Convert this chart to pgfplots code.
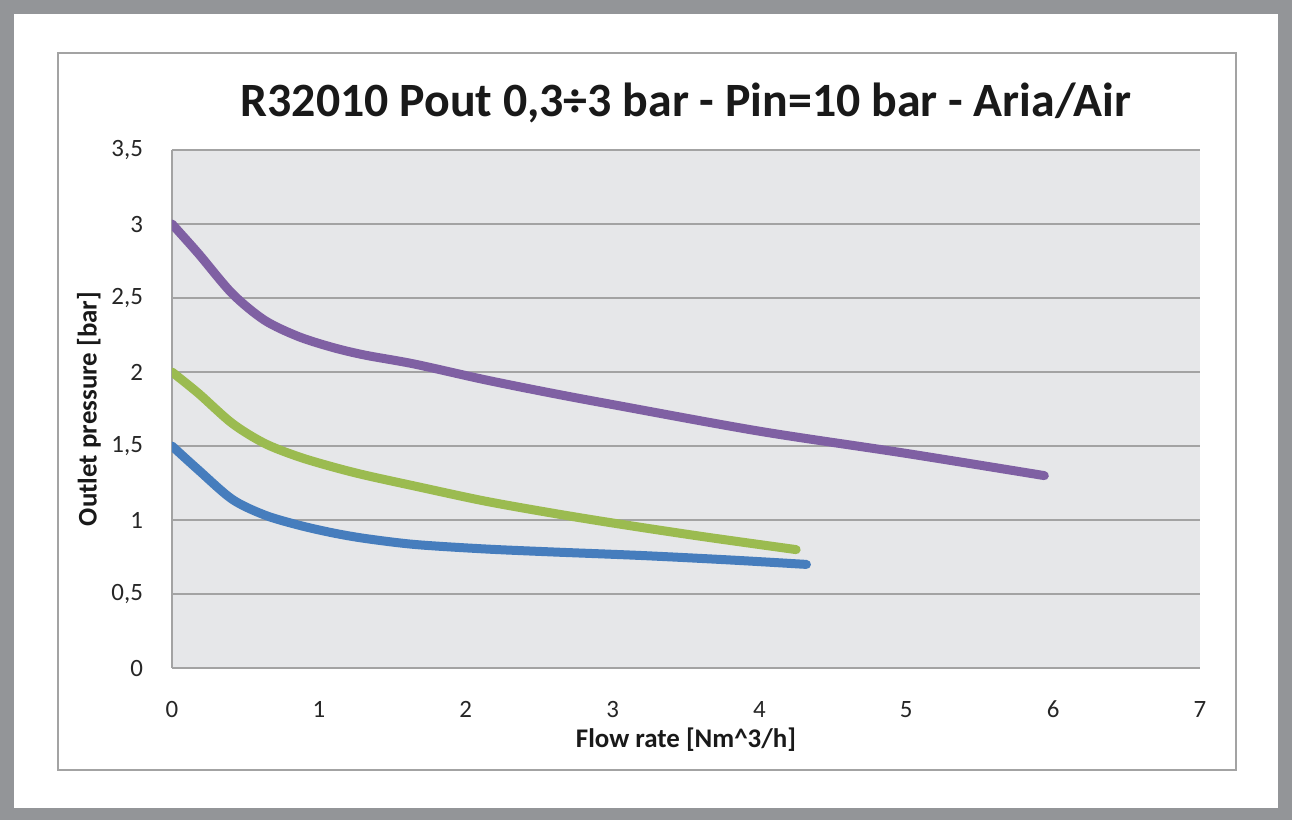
\documentclass[border=0pt]{standalone}
\usepackage{pgfplots}
\pgfplotsset{compat=1.18}
\usepackage{fontspec}
\setmainfont{Carlito}
\definecolor{frame}{HTML}{939598}
\definecolor{bg}{HTML}{E6E7E9}
\definecolor{grid}{HTML}{A3A3A3}
\definecolor{cpurple}{HTML}{7F60A3}
\definecolor{cgreen}{HTML}{9BBB50}
\definecolor{cblue}{HTML}{467DBD}
\begin{document}
\begin{tikzpicture}[x=1bp,y=1bp]
\fill[frame] (-86,-76) rectangle (560,334);
\fill[white] (-79,-70) rectangle (553,327);
\draw[grid, line width=0.8bp] (-57,-51) rectangle (532,307.5);
\begin{axis}[
  at={(0,0)}, anchor=south west,
  scale only axis, width=514bp, height=259bp,
  xmin=0, xmax=7, ymin=0, ymax=3.5,
  xtick={0,1,...,7}, ytick={0,0.5,...,3.5},
  axis background/.style={fill=bg},
  axis x line*=bottom, axis y line*=left,
  axis line style={draw=grid, line width=1bp, -},
  major tick length=0pt,
  ymajorgrids, grid style={draw=grid, line width=1bp},
  /pgf/number format/use comma,
  /pgf/number format/assume math mode=true,
  tick label style={font=\fontsize{12.5}{14}\selectfont, text=black!85},
  yticklabel style={xshift=-11bp},
  xticklabel style={yshift=-13bp},
  title={\textbf{R32010 Pout 0,3÷3 bar - Pin=10 bar - Aria/Air}},
  title style={font=\fontsize{24}{28}\selectfont, text=black!90, at={(0.5,1)}, anchor=base, yshift=11bp},
  xlabel={\textbf{Flow rate [Nm\textasciicircum 3/h]}},
  ylabel={\textbf{Outlet pressure [bar]}},
  label style={font=\fontsize{13.5}{16}\selectfont, text=black!90},
  xlabel style={yshift=2bp},
  ylabel style={yshift=-1.5bp},
  every axis plot/.append style={line width=4.5bp, line cap=round, line join=round, smooth, tension=0.5},
]
\addplot[cpurple] coordinates {(0,3.0) (0.18,2.80) (0.41,2.53) (0.63,2.35) (0.86,2.24) (1.09,2.167) (1.31,2.115) (1.65,2.054) (2.12,1.95) (2.57,1.86) (3,1.78) (4,1.60) (5,1.45) (5.94,1.30)};
\addplot[cgreen] coordinates {(0,2.0) (0.18,1.856) (0.41,1.653) (0.63,1.518) (0.86,1.428) (1.09,1.36) (1.31,1.304) (1.65,1.23) (2.12,1.13) (2.57,1.05) (3,0.98) (3.6,0.89) (4.25,0.80)};
\addplot[cblue] coordinates {(0,1.5) (0.18,1.338) (0.41,1.14) (0.63,1.034) (0.86,0.966) (1.09,0.914) (1.31,0.876) (1.65,0.835) (2.12,0.805) (2.57,0.785) (3.2,0.76) (3.8,0.73) (4.32,0.70)};
\end{axis}
\end{tikzpicture}
\end{document}
